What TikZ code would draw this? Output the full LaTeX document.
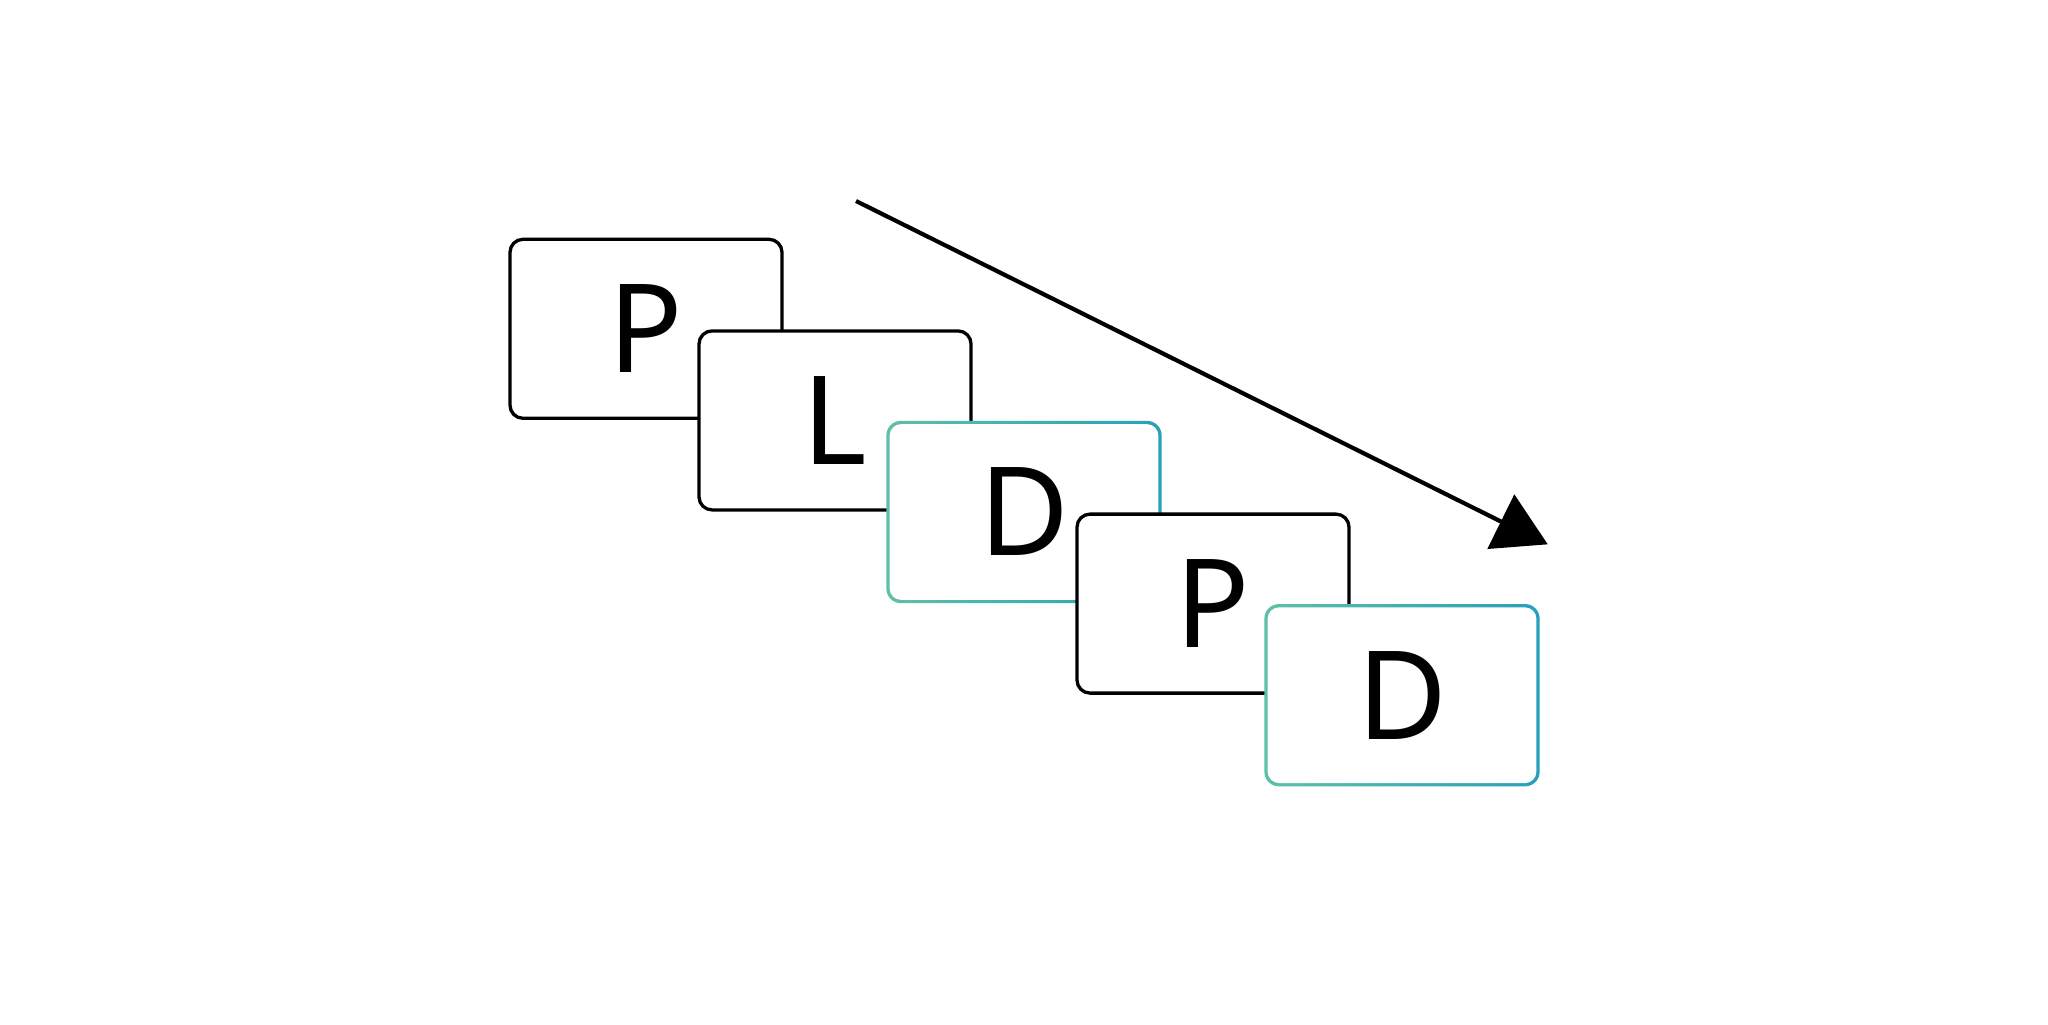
\documentclass[tikz,border=0pt]{standalone}
\usepackage{fontspec}
\setmainfont{Noto Sans}
\usetikzlibrary{calc}
\definecolor{gL}{RGB}{94,192,166}
\definecolor{gR}{RGB}{40,160,185}
\tikzset{
  x=0.5pt, y=-0.5pt,
  letter/.style={font=\fontsize{61.6pt}{72pt}\selectfont, text=black, inner sep=0pt},
  bbox/.style={letter, shape=rectangle, draw=black, fill=white, line width=1.65pt,
    rounded corners=6.5pt, minimum width=136pt, minimum height=89.5pt},
  gbox/.style={letter, shape=rectangle, rounded corners=7.3pt,
    minimum width=137.65pt, minimum height=91.15pt,
    left color=gL, right color=gR,
    path picture={\fill[white, rounded corners=5.7pt]
      ($(path picture bounding box.south west)+(1.65pt,1.65pt)$) rectangle
      ($(path picture bounding box.north east)+(-1.65pt,-1.65pt)$);}},
  arrowline/.style={draw=black, line width=2.1pt},
  tipfill/.style={fill=black}
}
\begin{document}
\begin{tikzpicture}
\useasboundingbox (0,0) rectangle (2048,1024);
\node[bbox] (b1) at (646,328.8) {P};
\node[bbox] (b2) at (835,420.4) {L};
\node[gbox] (b3) at (1024,512) {D};
\node[bbox] (b4) at (1213,603.6) {P};
\node[gbox] (b5) at (1402,695.2) {D};
\coordinate (a0) at (856,201);
\coordinate (a1) at (1508,525);
\coordinate (t1) at (1514.3,494.3);
\coordinate (t2) at (1487.3,549);
\coordinate (t3) at (1547.7,544.3);
\draw[arrowline] (a0) -- (a1);
\fill[tipfill] (t1) -- (t2) -- (t3) -- cycle;
\end{tikzpicture}
\end{document}
